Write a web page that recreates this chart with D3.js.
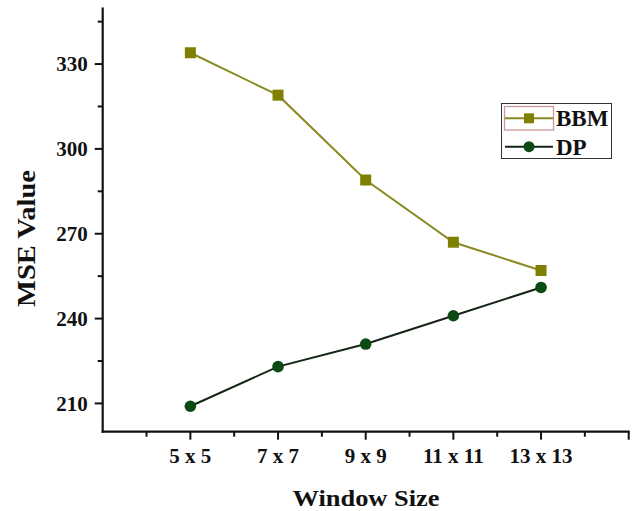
<!DOCTYPE html>
<html>
<head>
<meta charset="utf-8">
<script src="https://cdn.jsdelivr.net/npm/d3@7/dist/d3.min.js"></script>
<style>
  html, body { margin: 0; padding: 0; background: #fff; }
  svg { display: block; }
  text { font-family: "Liberation Serif", "Times New Roman", serif; font-weight: bold; fill: #111; }
</style>
</head>
<body>
<svg id="chart" width="637" height="511"></svg>
<script>
// ---- data ----
const categories = ["5 x 5", "7 x 7", "9 x 9", "11 x 11", "13 x 13"];
const bbmValues = [334, 319, 289, 267, 257];
const dpValues = [209, 223, 231, 241, 251];
const yTickValues = [210, 240, 270, 300, 330];
const yMinorTicks = [225, 255, 285, 315, 345];
const seriesNames = ["BBM", "DP"];

// ---- layout ----
const svg = d3.select("#chart");
const mLeft = 102.7, mRight = 628.7, mTop = 7.5, mBottom = 431.7;

const x = d3.scaleLinear().domain([0, categories.length + 1]).range([mLeft, mRight]);
const y = d3.scaleLinear().domain([200, 350]).range([mBottom, mTop]);
const xi = (d, i) => x(i + 1);

const axisColor = "#111";

// x axis
const xAxis = svg.append("g").attr("transform", `translate(0,${mBottom})`);
xAxis.append("line").attr("x1", mLeft - 1).attr("x2", mRight + 1).attr("y1", 0).attr("y2", 0)
  .attr("stroke", axisColor).attr("stroke-width", 2.2);
const xMajor = categories.map((d, i) => i + 1);
const xMinor = d3.range(0.5, categories.length + 1, 1);
xAxis.selectAll("line.xmaj").data(xMajor.concat([categories.length + 1])).enter().append("line")
  .attr("x1", d => x(d)).attr("x2", d => x(d)).attr("y1", 0).attr("y2", 8)
  .attr("stroke", axisColor).attr("stroke-width", 2);
xAxis.selectAll("line.xmin").data(xMinor).enter().append("line")
  .attr("x1", d => x(d)).attr("x2", d => x(d)).attr("y1", 0).attr("y2", 5)
  .attr("stroke", axisColor).attr("stroke-width", 2);
xAxis.selectAll("text").data(categories).enter().append("text")
  .attr("x", (d, i) => x(i + 1)).attr("y", 31)
  .attr("text-anchor", "middle").attr("font-size", 21).text(d => d);

// y axis
const yAxis = svg.append("g").attr("transform", `translate(${mLeft},0)`);
yAxis.append("line").attr("x1", 0).attr("x2", 0).attr("y1", mTop).attr("y2", mBottom + 1)
  .attr("stroke", axisColor).attr("stroke-width", 2.2);
yAxis.selectAll("line.ymaj").data(yTickValues).enter().append("line")
  .attr("x1", -8).attr("x2", 0).attr("y1", d => y(d)).attr("y2", d => y(d))
  .attr("stroke", axisColor).attr("stroke-width", 2);
yAxis.selectAll("line.ymin").data(yMinorTicks).enter().append("line")
  .attr("x1", -5).attr("x2", 0).attr("y1", d => y(d)).attr("y2", d => y(d))
  .attr("stroke", axisColor).attr("stroke-width", 2);
yAxis.selectAll("text").data(yTickValues).enter().append("text")
  .attr("x", -15).attr("y", d => y(d)).attr("dy", "0.35em")
  .attr("text-anchor", "end").attr("font-size", 21).text(d => d);

// axis titles
svg.append("text").attr("x", 366).attr("y", 506).attr("text-anchor", "middle")
  .attr("font-size", 24).attr("textLength", 147).attr("lengthAdjust", "spacingAndGlyphs")
  .text("Window Size");
svg.append("text").attr("transform", "translate(35,238.5) rotate(-90)")
  .attr("text-anchor", "middle").attr("font-size", 25)
  .attr("textLength", 137).attr("lengthAdjust", "spacingAndGlyphs")
  .text("MSE Value");

// series
const bbmColor = "#808000", bbmLine = "#8a8a22";
const dpColor = "#0b4a12", dpLine = "#152515";

const line = d3.line().x((d, i) => xi(d, i)).y(d => y(d));

svg.append("path").datum(bbmValues).attr("d", line)
  .attr("fill", "none").attr("stroke", bbmLine).attr("stroke-width", 2);
svg.append("path").datum(dpValues).attr("d", line)
  .attr("fill", "none").attr("stroke", dpLine).attr("stroke-width", 2);

const sq = 11;
svg.selectAll("rect.bbm").data(bbmValues).enter().append("rect")
  .attr("x", (d, i) => xi(d, i) - sq / 2).attr("y", d => y(d) - sq / 2)
  .attr("width", sq).attr("height", sq).attr("fill", bbmColor);
svg.selectAll("circle.dp").data(dpValues).enter().append("circle")
  .attr("cx", (d, i) => xi(d, i)).attr("cy", d => y(d)).attr("r", 5.8)
  .attr("fill", dpColor);

// legend
const lg = svg.append("g");
lg.append("rect").attr("x", 501.5).attr("y", 103.5).attr("width", 110).attr("height", 55)
  .attr("fill", "#fff").attr("stroke", "#333").attr("stroke-width", 1);
lg.append("rect").attr("x", 504.5).attr("y", 106.5).attr("width", 49).attr("height", 23.5)
  .attr("fill", "none").attr("stroke", "#c99a9a").attr("stroke-width", 1.3);
// BBM
lg.append("line").attr("x1", 505).attr("x2", 553).attr("y1", 118.3).attr("y2", 118.3)
  .attr("stroke", bbmLine).attr("stroke-width", 2);
lg.append("rect").attr("x", 529 - 5).attr("y", 118.3 - 5).attr("width", 10).attr("height", 10)
  .attr("fill", bbmColor);
lg.append("text").attr("x", 556).attr("y", 118.3).attr("dy", "0.35em")
  .attr("font-size", 23).text(seriesNames[0]);
// DP
lg.append("line").attr("x1", 505).attr("x2", 553).attr("y1", 146.7).attr("y2", 146.7)
  .attr("stroke", dpLine).attr("stroke-width", 2);
lg.append("circle").attr("cx", 529).attr("cy", 146.7).attr("r", 5.5).attr("fill", dpColor);
lg.append("text").attr("x", 556).attr("y", 146.7).attr("dy", "0.35em")
  .attr("font-size", 23).text(seriesNames[1]);
</script>
</body>
</html>
